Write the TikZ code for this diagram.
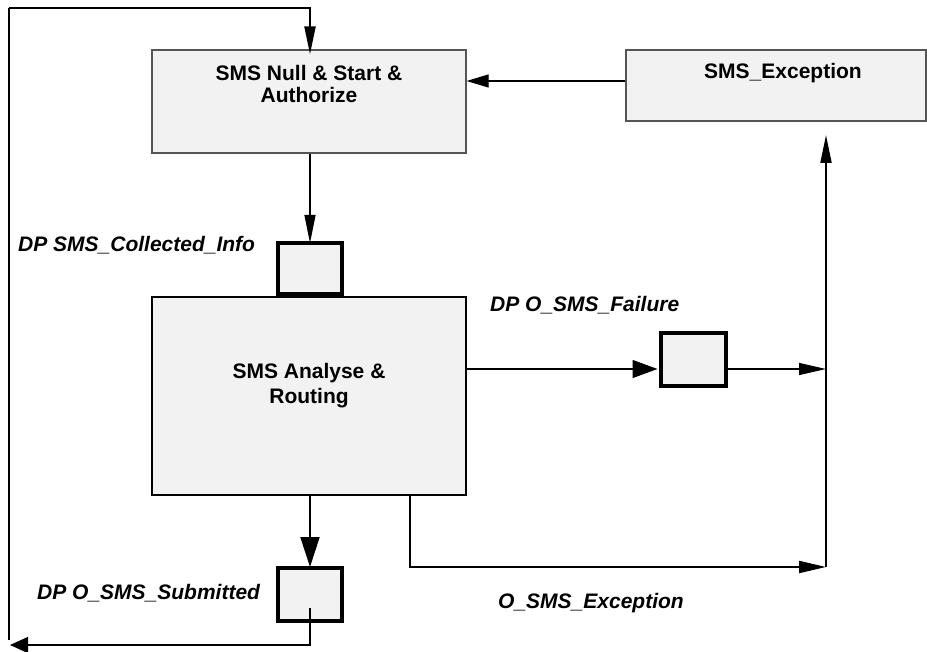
\documentclass[tikz,border=0pt]{standalone}
\usepackage{fontspec}
\setmainfont{Liberation Sans}
\usetikzlibrary{arrows.meta}
\definecolor{boxfill}{HTML}{F2F2F2}
\definecolor{boxline}{HTML}{555555}
\begin{document}
\begin{tikzpicture}[x=1pt,y=-1pt,
  procbox/.style={draw=boxline,line width=1.2pt,fill=boxfill,inner sep=0pt},
  mainbox/.style={draw=black,line width=1.3pt,fill=boxfill,inner sep=0pt},
  dpbox/.style={draw=black,line width=4pt,fill=boxfill,inner sep=0pt},
  boxtext/.style={font=\fontsize{21}{23}\selectfont\bfseries,align=center,inner sep=0pt},
  lbl/.style={font=\fontsize{21}{23}\selectfont\bfseries\itshape,inner sep=0pt,anchor=base west},
  thin/.style={draw=black,line width=1.2pt},
  thick/.style={draw=black,line width=2pt},
  tipA/.style={-{Triangle[length=28pt,width=11pt]}},
  tipB/.style={-{Triangle[length=22pt,width=13pt]}},
  tipC/.style={-{Triangle[length=30pt,width=19pt]}},
  tipD/.style={-{Triangle[length=25pt,width=18pt]}},
  tipE/.style={-{Triangle[length=27pt,width=12pt]}},
  tipF/.style={-{Triangle[length=18pt,width=16pt]}}]
\useasboundingbox (0,0) rectangle (927,652);
\fill[white] (0,0) rectangle (927,652);

% boxes
\node[procbox,minimum width=314pt,minimum height=103pt] (A) at (309,101.5) {};
\node[procbox,minimum width=300pt,minimum height=71pt] (E) at (776,85.5) {};
\node[mainbox,minimum width=314pt,minimum height=198pt] (M) at (309,396) {};
\node[dpbox,minimum width=64pt,minimum height=51pt] (B1) at (309.5,269) {};
\node[dpbox,minimum width=64pt,minimum height=53pt] (B2) at (309.5,594) {};
\node[dpbox,minimum width=65pt,minimum height=53pt] (B3) at (693.5,360) {};

% box texts
\node[boxtext] (At) at (309,84) {SMS Null \& Start \&\\[-1pt]Authorize};
\node[boxtext] (Et) at (783,73.5) {SMS\_Exception};
\node[boxtext] (Mt) at (309,386) {SMS Analyse \&\\[2pt]Routing};

% labels
\node[lbl] (L1) at (18,252) {DP SMS\_Collected\_Info};
\node[lbl] (L2) at (490,312) {DP O\_SMS\_Failure};
\node[lbl] (L3) at (37,599) {DP O\_SMS\_Submitted};
\node[lbl] (L4) at (498,608) {O\_SMS\_Exception};

% coordinates
\coordinate (tl) at (9,8);
\coordinate (tr) at (310,8);
\coordinate (lb) at (9,640);
\coordinate (fy) at (0,369);
\coordinate (ey) at (0,81);
\coordinate (J1) at (826,369);
\coordinate (J2) at (826,567);
\coordinate (Jt) at (826,135);
\coordinate (ex1) at (410,567);
\coordinate (bl) at (10,645);
\coordinate (b2in) at (310,608);
\coordinate (b2dn) at (310,645);

% connectors
\draw[thin] (lb) -- (tl);
\draw[thick,tipA] (tl) -- (tr) -- ([yshift=-5pt]A.north -| tr);
\draw[thin,tipB] (E.west |- ey) -- (A.east |- ey);
\draw[thin,tipA] (A.south -| tr) -- ([yshift=-1.5pt]B1.north -| tr);
\draw[thick,tipC] (M.south -| tr) -- ([yshift=-1.5pt]B2.north -| tr);
\draw[thin,tipD] (M.east |- fy) -- ([xshift=-1.5pt]B3.west |- fy);
\draw[thin,tipE] (B3.east |- fy) -- (J1);
\draw[thick,tipE] (M.south -| ex1) -- (ex1) -- (J2);
\draw[thick,tipA] (J2) -- (Jt);
\draw[thin,tipF] (b2in) -- (b2dn) -- (bl);
\end{tikzpicture}
\end{document}
